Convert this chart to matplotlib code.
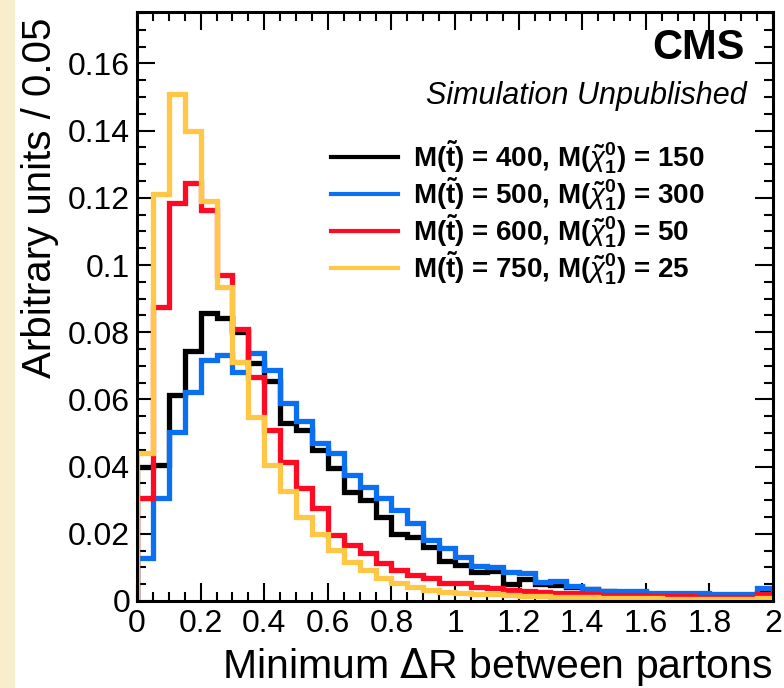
import numpy as np
import matplotlib
matplotlib.use("Agg")
import matplotlib.pyplot as plt
from matplotlib.lines import Line2D
from matplotlib.patches import Rectangle
from matplotlib.ticker import MultipleLocator, FuncFormatter

plt.rcParams['mathtext.fontset'] = 'custom'
plt.rcParams['mathtext.rm'] = 'Liberation Sans:bold'
plt.rcParams['mathtext.bf'] = 'Liberation Sans:bold'
plt.rcParams['mathtext.it'] = 'Liberation Sans:italic'

sans = ['Liberation Sans', 'DejaVu Sans']

# 40 bins of width 0.05 in min dR
edges = np.linspace(0, 2, 41)

h_400_150 = [0.040, 0.0405, 0.0613, 0.0744, 0.0857, 0.0842, 0.080, 0.0708, 0.0655, 0.053,
             0.0509, 0.045, 0.0396, 0.0324, 0.030, 0.025, 0.020, 0.019, 0.016, 0.0118,
             0.0107, 0.0086, 0.0088, 0.0052, 0.0065, 0.0050, 0.0048, 0.0042, 0.0035, 0.0030,
             0.0028, 0.0026, 0.0022, 0.0020, 0.0019, 0.0018, 0.0017, 0.0015, 0.0013, 0.0025]
h_500_300 = [0.0128, 0.0307, 0.0503, 0.0622, 0.0717, 0.0732, 0.0682, 0.0738, 0.0687, 0.0589,
             0.0536, 0.047, 0.044, 0.0375, 0.034, 0.0307, 0.027, 0.0232, 0.0182, 0.0158,
             0.013, 0.0105, 0.0102, 0.0085, 0.0083, 0.0058, 0.0060, 0.0045, 0.0035, 0.0030,
             0.0031, 0.0030, 0.0025, 0.0025, 0.0024, 0.0023, 0.0021, 0.0022, 0.0021, 0.0038]
h_600_50 = [0.0307, 0.0875, 0.1185, 0.1244, 0.1164, 0.097, 0.081, 0.0667, 0.0509, 0.0414,
            0.0336, 0.0277, 0.0196, 0.0167, 0.0143, 0.0113, 0.0092, 0.0077, 0.0068, 0.0054,
            0.0054, 0.0042, 0.0039, 0.0033, 0.0030, 0.0028, 0.0025, 0.0023, 0.0020, 0.0019,
            0.0018, 0.0017, 0.0016, 0.0015, 0.0014, 0.0013, 0.0013, 0.0012, 0.0012, 0.0022]
h_750_25 = [0.044, 0.121, 0.151, 0.140, 0.119, 0.0935, 0.071, 0.0548, 0.0405, 0.0327,
            0.025, 0.020, 0.0152, 0.0116, 0.0092, 0.0068, 0.0054, 0.0042, 0.0033, 0.0028,
            0.0025, 0.0022, 0.0020, 0.0018, 0.0016, 0.0014, 0.0013, 0.0012, 0.0011, 0.0010,
            0.0009, 0.0008, 0.0008, 0.0007, 0.0007, 0.0006, 0.0006, 0.0005, 0.0005, 0.0010]

labels = [r'M($\tilde{\mathrm{t}}$) = 400, M($\tilde{\chi}^{0}_{1}$) = 150',
          r'M($\tilde{\mathrm{t}}$) = 500, M($\tilde{\chi}^{0}_{1}$) = 300',
          r'M($\tilde{\mathrm{t}}$) = 600, M($\tilde{\chi}^{0}_{1}$) = 50',
          r'M($\tilde{\mathrm{t}}$) = 750, M($\tilde{\chi}^{0}_{1}$) = 25']
colors = ['#000000', '#0b6ff2', '#ff0a23', '#ffc746']

fig = plt.figure(figsize=(7.84, 6.88), dpi=100)
fig.patch.set_facecolor('white')
fig.patches.append(Rectangle((0, 0), 15 / 784, 1, transform=fig.transFigure,
                             facecolor='#f8eecd', edgecolor='none', zorder=0))

ax = fig.add_axes([137 / 784, 1 - 601 / 688, 636 / 784, 589 / 688])

hists = [h_400_150, h_500_300, h_600_50, h_750_25]
for i, (h, c) in enumerate(zip(hists, colors)):
    ax.stairs(h, edges, baseline=0, fill=False, color=c, linewidth=3.8, zorder=2 + i)

ax.set_xlim(0, 2)
ax.set_ylim(0, 0.1753)

ax.xaxis.set_major_locator(MultipleLocator(0.2))
ax.xaxis.set_minor_locator(MultipleLocator(0.05))
ax.yaxis.set_major_locator(MultipleLocator(0.02))
ax.yaxis.set_minor_locator(MultipleLocator(0.005))
fmt = FuncFormatter(lambda v, p: '%g' % round(v, 4))
ax.xaxis.set_major_formatter(fmt)
ax.yaxis.set_major_formatter(fmt)

ax.tick_params(which='both', direction='in', top=True, right=True, width=1.5)
ax.tick_params(which='major', length=13)
ax.tick_params(which='minor', length=6.5)
ax.tick_params(axis='x', pad=6)
ax.tick_params(axis='y', pad=5)
for lab in ax.get_xticklabels() + ax.get_yticklabels():
    lab.set_family(sans)
    lab.set_fontsize(23)
for s in ax.spines.values():
    s.set_linewidth(2.2)
    s.set_zorder(10)

fig.text(772 / 784, 1 - 678 / 688, r'Minimum $\Delta$R between partons', ha='right', va='baseline',
         family=sans, fontsize=29.5, math_fontfamily='dejavusans')
fig.text(40 / 784, 1 - 18 / 688, 'Arbitrary units / 0.05', rotation=90, ha='center', va='top',
         family=sans, fontsize=29)

ax.text(0.956, 0.939, 'CMS', transform=ax.transAxes, ha='right', va='center',
        family=sans, fontweight='bold', fontsize=30)
ax.text(0.959, 0.857, 'Simulation Unpublished', transform=ax.transAxes, ha='right', va='center',
        family=sans, style='italic', fontsize=22)

handles = [Line2D([], [], color=c, linewidth=3) for c in colors]
ax.legend(handles, labels, loc='upper left', bbox_to_anchor=(0.305, 0.786), frameon=False,
          borderpad=0, borderaxespad=0, handlelength=2.4, handletextpad=0.55, labelspacing=-0.03,
          prop={'family': 'Liberation Sans', 'weight': 'bold', 'size': 20})

fig.savefig('out.png', dpi=100)
